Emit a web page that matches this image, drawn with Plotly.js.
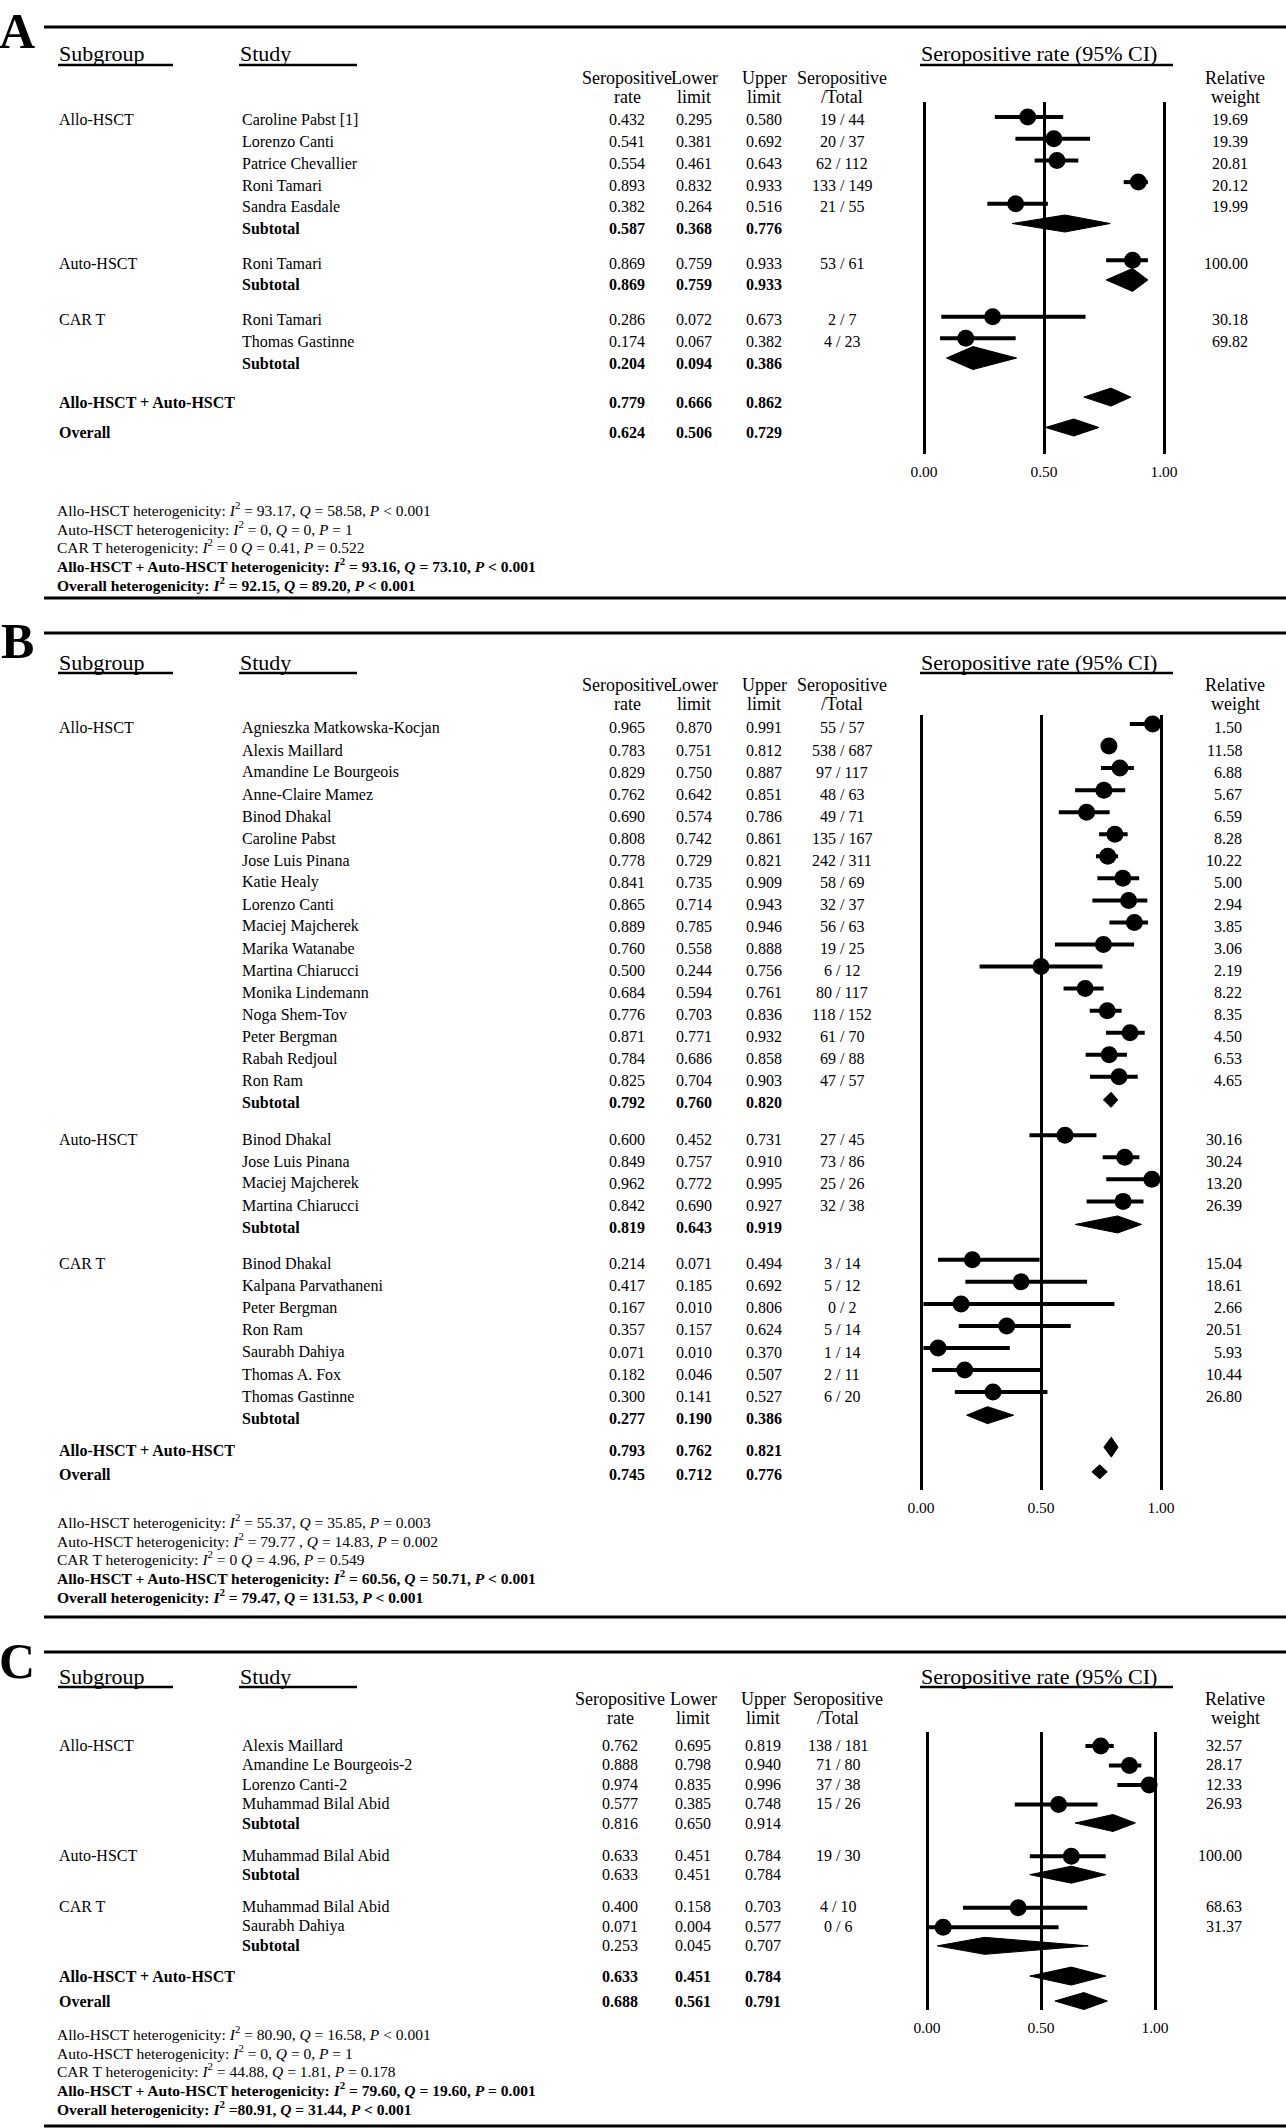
<!DOCTYPE html>
<html><head><meta charset="utf-8">
<script src="https://cdn.plot.ly/plotly-3.0.1.min.js"></script>
<style>html,body{margin:0;padding:0;background:#fff}</style>
</head><body><div id="chart" style="width:1286px;height:2128px"></div>
<script>
// ================= DATA =================
const colHead1 = ["Seropositive","Lower","Upper","Seropositive"];
const colHead2 = ["rate","limit","limit","/Total"];
const weightHead = ["Relative","weight"];
const tickVals = [0, 0.5, 1];
const tickText = ["0.00","0.50","1.00"];

// ---- Panel A ----
const subgroupsA = ["Allo-HSCT","Auto-HSCT","CAR T"];
const studyA  = ["Caroline Pabst [1]","Lorenzo Canti","Patrice Chevallier","Roni Tamari","Sandra Easdale","Roni Tamari","Roni Tamari","Thomas Gastinne"];
const groupA  = ["Allo-HSCT","Allo-HSCT","Allo-HSCT","Allo-HSCT","Allo-HSCT","Auto-HSCT","CAR T","CAR T"];
const rateA   = [0.432,0.541,0.554,0.893,0.382,0.869,0.286,0.174];
const lowerA  = [0.295,0.381,0.461,0.832,0.264,0.759,0.072,0.067];
const upperA  = [0.580,0.692,0.643,0.933,0.516,0.933,0.673,0.382];
const posA    = [19,20,62,133,21,53,2,4];
const totalA  = [44,37,112,149,55,61,7,23];
const weightA = [19.69,19.39,20.81,20.12,19.99,100.00,30.18,69.82];
const subRateA  = [0.587,0.869,0.204];
const subLowerA = [0.368,0.759,0.094];
const subUpperA = [0.776,0.933,0.386];
const pooledA      = ["Allo-HSCT + Auto-HSCT","Overall"];
const pooledRateA  = [0.779,0.624];
const pooledLowerA = [0.666,0.506];
const pooledUpperA = [0.862,0.729];
const hetA = [
  "Allo-HSCT heterogenicity: <i>I</i><sup>2</sup> = 93.17, <i>Q</i> = 58.58, <i>P</i> &lt; 0.001",
  "Auto-HSCT heterogenicity: <i>I</i><sup>2</sup> = 0, <i>Q</i> = 0, <i>P</i> = 1",
  "CAR T heterogenicity: <i>I</i><sup>2</sup> = 0 <i>Q</i> = 0.41, <i>P</i> = 0.522",
  "<b>Allo-HSCT + Auto-HSCT heterogenicity: <i>I</i><sup>2</sup> = 93.16, <i>Q</i> = 73.10, <i>P</i> &lt; 0.001</b>",
  "<b>Overall heterogenicity: <i>I</i><sup>2</sup> = 92.15, <i>Q</i> = 89.20, <i>P</i> &lt; 0.001</b>"
];

// ---- Panel B ----
const subgroupsB = ["Allo-HSCT","Auto-HSCT","CAR T"];
const studyB = ["Agnieszka Matkowska-Kocjan","Alexis Maillard","Amandine Le Bourgeois","Anne-Claire Mamez","Binod Dhakal","Caroline Pabst","Jose Luis Pinana","Katie Healy","Lorenzo Canti","Maciej Majcherek","Marika Watanabe","Martina Chiarucci","Monika Lindemann","Noga Shem-Tov","Peter Bergman","Rabah Redjoul","Ron Ram",
  "Binod Dhakal","Jose Luis Pinana","Maciej Majcherek","Martina Chiarucci",
  "Binod Dhakal","Kalpana Parvathaneni","Peter Bergman","Ron Ram","Saurabh Dahiya","Thomas A. Fox","Thomas Gastinne"];
const groupB = ["Allo-HSCT","Allo-HSCT","Allo-HSCT","Allo-HSCT","Allo-HSCT","Allo-HSCT","Allo-HSCT","Allo-HSCT","Allo-HSCT","Allo-HSCT","Allo-HSCT","Allo-HSCT","Allo-HSCT","Allo-HSCT","Allo-HSCT","Allo-HSCT","Allo-HSCT",
  "Auto-HSCT","Auto-HSCT","Auto-HSCT","Auto-HSCT",
  "CAR T","CAR T","CAR T","CAR T","CAR T","CAR T","CAR T"];
const rateB  = [0.965,0.783,0.829,0.762,0.690,0.808,0.778,0.841,0.865,0.889,0.760,0.500,0.684,0.776,0.871,0.784,0.825,
  0.600,0.849,0.962,0.842,
  0.214,0.417,0.167,0.357,0.071,0.182,0.300];
const lowerB = [0.870,0.751,0.750,0.642,0.574,0.742,0.729,0.735,0.714,0.785,0.558,0.244,0.594,0.703,0.771,0.686,0.704,
  0.452,0.757,0.772,0.690,
  0.071,0.185,0.010,0.157,0.010,0.046,0.141];
const upperB = [0.991,0.812,0.887,0.851,0.786,0.861,0.821,0.909,0.943,0.946,0.888,0.756,0.761,0.836,0.932,0.858,0.903,
  0.731,0.910,0.995,0.927,
  0.494,0.692,0.806,0.624,0.370,0.507,0.527];
const posB   = [55,538,97,48,49,135,242,58,32,56,19,6,80,118,61,69,47, 27,73,25,32, 3,5,0,5,1,2,6];
const totalB = [57,687,117,63,71,167,311,69,37,63,25,12,117,152,70,88,57, 45,86,26,38, 14,12,2,14,14,11,20];
const weightB = [1.50,11.58,6.88,5.67,6.59,8.28,10.22,5.00,2.94,3.85,3.06,2.19,8.22,8.35,4.50,6.53,4.65,
  30.16,30.24,13.20,26.39,
  15.04,18.61,2.66,20.51,5.93,10.44,26.80];
const subRateB  = [0.792,0.819,0.277];
const subLowerB = [0.760,0.643,0.190];
const subUpperB = [0.820,0.919,0.386];
const pooledB      = ["Allo-HSCT + Auto-HSCT","Overall"];
const pooledRateB  = [0.793,0.745];
const pooledLowerB = [0.762,0.712];
const pooledUpperB = [0.821,0.776];
const hetB = [
  "Allo-HSCT heterogenicity: <i>I</i><sup>2</sup> = 55.37, <i>Q</i> = 35.85, <i>P</i> = 0.003",
  "Auto-HSCT heterogenicity: <i>I</i><sup>2</sup> = 79.77 , <i>Q</i> = 14.83, <i>P</i> = 0.002",
  "CAR T heterogenicity: <i>I</i><sup>2</sup> = 0 <i>Q</i> = 4.96, <i>P</i> = 0.549",
  "<b>Allo-HSCT + Auto-HSCT heterogenicity: <i>I</i><sup>2</sup> = 60.56, <i>Q</i> = 50.71, <i>P</i> &lt; 0.001</b>",
  "<b>Overall heterogenicity: <i>I</i><sup>2</sup> = 79.47, <i>Q</i> = 131.53, <i>P</i> &lt; 0.001</b>"
];

// ---- Panel C ----
const subgroupsC = ["Allo-HSCT","Auto-HSCT","CAR T"];
const studyC  = ["Alexis Maillard","Amandine Le Bourgeois-2","Lorenzo Canti-2","Muhammad Bilal Abid","Muhammad Bilal Abid","Muhammad Bilal Abid","Saurabh Dahiya"];
const groupC  = ["Allo-HSCT","Allo-HSCT","Allo-HSCT","Allo-HSCT","Auto-HSCT","CAR T","CAR T"];
const rateC   = [0.762,0.888,0.974,0.577,0.633,0.400,0.071];
const lowerC  = [0.695,0.798,0.835,0.385,0.451,0.158,0.004];
const upperC  = [0.819,0.940,0.996,0.748,0.784,0.703,0.577];
const posC    = [138,71,37,15,19,4,0];
const totalC  = [181,80,38,26,30,10,6];
const weightC = [32.57,28.17,12.33,26.93,100.00,68.63,31.37];
const subRateC  = [0.816,0.633,0.253];
const subLowerC = [0.650,0.451,0.045];
const subUpperC = [0.914,0.784,0.707];
const pooledC      = ["Allo-HSCT + Auto-HSCT","Overall"];
const pooledRateC  = [0.633,0.688];
const pooledLowerC = [0.451,0.561];
const pooledUpperC = [0.784,0.791];
const hetC = [
  "Allo-HSCT heterogenicity: <i>I</i><sup>2</sup> = 80.90, <i>Q</i> = 16.58, <i>P</i> &lt; 0.001",
  "Auto-HSCT heterogenicity: <i>I</i><sup>2</sup> = 0, <i>Q</i> = 0, <i>P</i> = 1",
  "CAR T heterogenicity: <i>I</i><sup>2</sup> = 44.88, <i>Q</i> = 1.81, <i>P</i> = 0.178",
  "<b>Allo-HSCT + Auto-HSCT heterogenicity: <i>I</i><sup>2</sup> = 79.60, <i>Q</i> = 19.60, <i>P</i> = 0.001</b>",
  "<b>Overall heterogenicity: <i>I</i><sup>2</sup> =80.91, <i>Q</i> = 31.44, <i>P</i> &lt; 0.001</b>"
];

// ================= LAYOUT (positions & styles, pixels) =================
const W = 1286, H = 2128;
const FONT = "Liberation Serif, Times New Roman, serif";
const LAY = {
  A: {rule:27, ruleBottom:598, letterY:31, head:54, col1:78, col2:97, rowTop:120, step:21.7, groupGap:1.6, pooledGap:[1.8,1.4],
      fx0:924, fx1:1164, fTop:102, fBot:454, hetTop:509, hetStep:18.7, colX:[627,694,764,842], wX:1249, subBold:true,
      subHalf:[8.5,11.5,11.5], poolHalf:[9,8.5], markDy:-3, diaDy:-5},
  B: {rule:633, ruleBottom:1617, letterY:641, head:662, col1:685, col2:704, rowTop:728, step:22.05, groupGap:1.65, pooledGap:[1.45,1.12],
      fx0:921, fx1:1161, fTop:715, fBot:1490, hetTop:1521, hetStep:18.7, colX:[627,694,764,842], wX:1243, subBold:true,
      subHalf:[7.5,8.5,8.5], poolHalf:[10,7], markDy:-4, diaDy:-3},
  C: {rule:1652, ruleBottom:2126, letterY:1661, head:1676, col1:1699, col2:1718, rowTop:1745, step:19.5, groupGap:1.65, pooledGap:[1.55,1.28],
      fx0:927, fx1:1155, fTop:1732, fBot:2010, hetTop:2033, hetStep:18.7, colX:[620,693,763,838], wX:1243, subBold:false,
      subHalf:[8.5,8.5,8.5], poolHalf:[9,8.5], markDy:1, diaDy:0}
};

const px = x => x / W;
const py = y => 1 - y / H;
const annotations = [], shapes = [], traces = [];
const layout = {
  width: W, height: H, margin: {l:0, r:0, t:0, b:0}, autosize: false,
  paper_bgcolor: '#fff', plot_bgcolor: 'rgba(0,0,0,0)', showlegend: false,
  annotations, shapes
};

function txt(x, y, text, opts, size) {
  annotations.push(Object.assign({
    xref:'paper', yref:'paper', x:px(x), y:py(y), text:text, showarrow:false,
    xanchor:'left', yanchor:'middle', borderpad:0,
    font:{family:FONT, size:size || 16, color:'#000'}
  }, opts || {}));
}
function hline(x0, x1, y, w) {
  shapes.push({type:'line', xref:'paper', yref:'paper', x0:px(x0), x1:px(x1), y0:py(y), y1:py(y),
    line:{color:'#000', width:w}});
}
const f3 = v => v.toFixed(3);

function buildPanel(n, letter, D, L) {
  const suf = n === 1 ? '' : String(n);
  const xa = 'x' + suf, ya = 'y' + suf;

  hline(44, W, L.rule, 3);
  hline(44, W, L.ruleBottom, 3);
  txt(17, L.letterY, '<b>' + letter + '</b>', {xanchor:'center'}, 50);

  txt(58, L.head, 'Subgroup', {}, 22);  hline(58, 173, L.head + 11, 2.5);
  txt(239, L.head, 'Study', {}, 22);    hline(239, 357, L.head + 11, 2.5);
  txt(920, L.head, 'Seropositive rate (95% CI)', {}, 22); hline(920, 1173, L.head + 11, 2.5);
  colHead1.forEach((t, i) => {
    txt(L.colX[i], L.col1, t, {xanchor:'center'}, 18);
    txt(L.colX[i], L.col2, colHead2[i], {xanchor:'center'}, 18);
  });
  txt(1235, L.col1, weightHead[0], {xanchor:'center'}, 18);
  txt(1235, L.col2, weightHead[1], {xanchor:'center'}, 18);

  // rows
  const rows = [];
  let k = null;
  const next = gap => { k = (k === null) ? 0 : k + gap; return L.rowTop + k * L.step; };
  D.subgroups.forEach((g, gi) => {
    let first = true;
    D.study.forEach((s, i) => {
      if (D.group[i] !== g) return;
      const y = next(first && gi > 0 ? L.groupGap : 1);
      rows.push({kind:'study', sub:first ? g : '', label:s, r:D.rate[i], lo:D.lower[i], hi:D.upper[i],
        frac:D.pos[i] + ' / ' + D.total[i], w:D.weight[i].toFixed(2), y});
      first = false;
    });
    rows.push({kind:'sub', label:'Subtotal', r:D.subRate[gi], lo:D.subLower[gi], hi:D.subUpper[gi], y:next(1), h:L.subHalf[gi]});
  });
  D.pooled.forEach((lab, j) => {
    rows.push({kind:'pool', label:lab, r:D.pooledRate[j], lo:D.pooledLower[j], hi:D.pooledUpper[j], y:next(L.pooledGap[j]), h:L.poolHalf[j]});
  });

  rows.forEach(r => {
    if (r.kind === 'study') {
      if (r.sub) txt(58, r.y, r.sub);
      txt(241, r.y, r.label);
      txt(L.colX[0], r.y, f3(r.r), {xanchor:'center'});
      txt(L.colX[1], r.y, f3(r.lo), {xanchor:'center'});
      txt(L.colX[2], r.y, f3(r.hi), {xanchor:'center'});
      txt(L.colX[3], r.y, r.frac, {xanchor:'center'});
      txt(L.wX, r.y, r.w, {xanchor:'right'});
    } else {
      const bold = (r.kind === 'pool' || L.subBold) ? (s => '<b>' + s + '</b>') : (s => s);
      if (r.kind === 'sub') txt(241, r.y, '<b>' + r.label + '</b>');
      else txt(58, r.y, '<b>' + r.label + '</b>');
      txt(L.colX[0], r.y, bold(f3(r.r)), {xanchor:'center'});
      txt(L.colX[1], r.y, bold(f3(r.lo)), {xanchor:'center'});
      txt(L.colX[2], r.y, bold(f3(r.hi)), {xanchor:'center'});
    }
  });

  D.het.forEach((h, i) => txt(56, L.hetTop + i * L.hetStep, h, {}, 15.5));

  // forest plot marks
  const st = rows.filter(r => r.kind === 'study');
  const ciX = [], ciY = [];
  st.forEach(r => { ciX.push(r.lo, r.hi, null); ciY.push(r.y + L.markDy, r.y + L.markDy, null); });
  traces.push({type:'scatter', mode:'lines', x:ciX, y:ciY, xaxis:xa, yaxis:ya,
    line:{color:'#000', width:4}, hoverinfo:'skip'});
  traces.push({type:'scatter', mode:'markers', x:st.map(r => r.r), y:st.map(r => r.y + L.markDy), xaxis:xa, yaxis:ya,
    marker:{color:'#000', size:17}, cliponaxis:false, hoverinfo:'skip'});
  const dm = rows.filter(r => r.kind !== 'study');
  const dX = [], dY = [];
  dm.forEach(r => {
    const c = r.y + L.diaDy;
    dX.push(r.lo, r.r, r.hi, r.r, r.lo, null);
    dY.push(c, c - r.h, c, c + r.h, c, null);
  });
  traces.push({type:'scatter', mode:'lines', x:dX, y:dY, xaxis:xa, yaxis:ya, fill:'toself',
    fillcolor:'#000', line:{color:'#000', width:1}, hoverinfo:'skip'});

  const pad = 22, span = L.fx1 - L.fx0;
  layout['xaxis' + suf] = {
    domain:[px(L.fx0 - pad), px(L.fx1 + pad)], range:[-pad / span, 1 + pad / span], anchor:ya,
    tickmode:'array', tickvals:tickVals, ticktext:tickText, showgrid:true, gridcolor:'#000', gridwidth:3,
    zeroline:false, showline:false, ticks:'', ticklabelstandoff:6,
    tickfont:{family:FONT, size:15.5, color:'#000'}, fixedrange:true
  };
  layout['yaxis' + suf] = {
    domain:[py(L.fBot), py(L.fTop)], range:[L.fBot, L.fTop], anchor:xa,
    showgrid:false, zeroline:false, showticklabels:false, showline:false, fixedrange:true
  };
}

buildPanel(1, 'A', {subgroups:subgroupsA, study:studyA, group:groupA, rate:rateA, lower:lowerA, upper:upperA, pos:posA, total:totalA, weight:weightA,
  subRate:subRateA, subLower:subLowerA, subUpper:subUpperA, pooled:pooledA, pooledRate:pooledRateA, pooledLower:pooledLowerA, pooledUpper:pooledUpperA, het:hetA}, LAY.A);
buildPanel(2, 'B', {subgroups:subgroupsB, study:studyB, group:groupB, rate:rateB, lower:lowerB, upper:upperB, pos:posB, total:totalB, weight:weightB,
  subRate:subRateB, subLower:subLowerB, subUpper:subUpperB, pooled:pooledB, pooledRate:pooledRateB, pooledLower:pooledLowerB, pooledUpper:pooledUpperB, het:hetB}, LAY.B);
buildPanel(3, 'C', {subgroups:subgroupsC, study:studyC, group:groupC, rate:rateC, lower:lowerC, upper:upperC, pos:posC, total:totalC, weight:weightC,
  subRate:subRateC, subLower:subLowerC, subUpper:subUpperC, pooled:pooledC, pooledRate:pooledRateC, pooledLower:pooledLowerC, pooledUpper:pooledUpperC, het:hetC}, LAY.C);

Plotly.newPlot('chart', traces, layout, {staticPlot:true, displayModeBar:false});
</script>
</body></html>
